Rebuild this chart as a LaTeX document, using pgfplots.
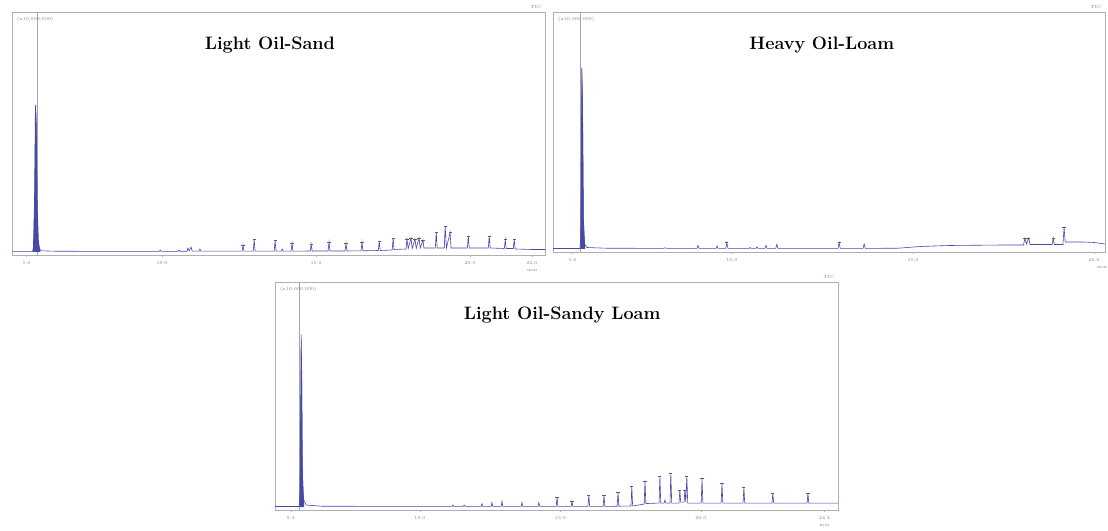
\documentclass[border=0pt]{standalone}
\usepackage{pgfplots}
\pgfplotsset{compat=1.18}
\definecolor{chrom}{RGB}{72,72,168}
\definecolor{frame}{RGB}{175,175,180}
\definecolor{pk}{RGB}{90,90,110}
\newcommand{\tk}{\fontsize{4.5}{5}\selectfont}
\newcommand{\ttl}{\fontsize{18}{20}\selectfont\bfseries}
\pgfplotsset{
  chromax/.style={
    scale only axis, clip=false,
    axis line style={frame, line width=0.7pt},
    ytick=\empty,
    tick style={frame},
    major tick length=2pt, tick align=outside,
    xtick pos=bottom,
    xticklabel style={font=\tk, text=gray},
    xticklabel shift=1pt,
  },
  sig/.style={chrom, line width=0.6pt},
  tops/.style={only marks, mark=-, mark size=1.6pt, pk, mark options={line width=0.5pt}},
  marker/.style={frame!80!gray, line width=0.5pt},
}
\begin{document}
\begin{tikzpicture}
\path[use as bounding box] (0pt,0pt) rectangle (1108pt,530pt);

% ---------- Light Oil-Sand ----------
\begin{axis}[chromax, at={(12pt,275pt)}, anchor=south west,
  width=533pt, height=243pt,
  xmin=5.13, xmax=22.43, ymin=-3, ymax=240,
  xtick={5.6,10,15,20,22}, xticklabels={5.6,10.0,15.0,20.0,22.0}]
\addplot[marker] coordinates {(5.94,-3) (5.94,240)};
\addplot[sig] coordinates {
(5.13,0.6)(5.80,0.6)(5.84,8)(5.87,60)(5.90,147)(5.92,125)(5.94,50)(5.97,12)(6.02,3)(6.1,1.2)(6.5,0.8)(8,0.6)
(9.91,0.6)(9.94,2)(9.97,0.6)
(10.52,0.7)(10.55,2)(10.58,0.7)
(10.81,0.8)(10.84,4)(10.88,1)(10.94,5)(10.98,0.8)
(11.20,0.8)(11.23,3)(11.26,0.8)
(12.60,0.8)(12.63,7)(12.66,0.8)
(12.96,0.8)(12.99,12.5)(13.02,0.8)
(13.64,0.8)(13.67,11.4)(13.70,0.8)
(13.87,0.8)(13.90,3)(13.93,0.8)
(14.19,0.8)(14.22,9)(14.25,0.8)
(14.81,1)(14.84,8)(14.87,1)
(15.39,1)(15.42,10)(15.45,1)
(15.94,1)(15.97,9)(16.00,1)
(16.46,1.2)(16.49,10)(16.52,1.2)
(17.02,1.5)(17.05,11)(17.08,1.5)
(17.47,2)(17.50,13.6)(17.53,2.5)
(17.92,3)(17.95,13)(17.99,3.5)(18.08,14)(18.12,3.5)(18.21,13)(18.25,3.5)(18.34,14)(18.38,4)(18.47,12)(18.50,4)
(18.87,4)(18.90,19.6)(18.93,4)(19.16,4)(19.19,25.7)(19.23,4)(19.35,19.6)(19.38,4)
(19.91,4)(19.94,16)(19.97,4)
(20.59,4)(20.62,16)(20.65,4)
(21.11,3.5)(21.14,12.5)(21.17,3.5)
(21.40,3.5)(21.43,12.5)(21.46,3)
(22.0,2.5)(22.43,2.5)};
\addplot[chrom, fill=chrom, draw=none] coordinates {(5.81,0.6)(5.85,50)(5.88,145)(5.90,147)(5.93,125)(5.96,45)(6.00,10)(6.05,0.6)} \closedcycle;
\addplot[tops] coordinates {(12.63,7)(12.99,12.5)(13.67,11.4)(14.22,9)(14.84,8)(15.42,10)(15.97,9)(16.49,10)(17.05,11)(17.50,13.6)(17.95,13)(18.08,14)(18.21,13)(18.34,14)(18.47,12)(18.90,19.6)(19.19,25.7)(19.35,19.6)(19.94,16)(20.62,16)(21.14,12.5)(21.43,12.5)};
\node[font=\ttl] at (rel axis cs:0.484,0.864) {Light Oil-Sand};
\node[font=\tk, text=gray, anchor=north west] at (rel axis cs:0.003,0.995) {(x10,000,000)};
\node[font=\tk, text=gray, anchor=south east] at (rel axis cs:1,1) {TIC};
\node[font=\tk, text=gray] at (rel axis cs:0.976,0) [yshift=-15pt] {min};
\end{axis}

% ---------- Heavy Oil-Loam ----------
\begin{axis}[chromax, at={(553pt,278pt)}, anchor=south west,
  width=552pt, height=240pt,
  xmin=5.06, xmax=20.30, ymin=-3, ymax=237,
  xtick={5.6,10,15,20}, xticklabels={5.6,10.0,15.0,20.0}]
\addplot[marker] coordinates {(5.80,-3) (5.80,237)};
\addplot[sig] coordinates {
(5.06,0.5)(5.80,0.5)(5.83,10)(5.855,181)(5.875,150)(5.90,30)(5.93,5)(6.0,1.5)(6.5,0.8)(8.1,0.6)(8.15,1.2)(8.2,0.6)
(9.03,0.6)(9.06,3.6)(9.09,0.6)
(9.56,0.6)(9.59,3)(9.62,0.6)
(9.83,0.6)(9.86,6.5)(9.89,0.6)
(10.47,0.6)(10.50,1.5)(10.53,0.6)(10.66,0.6)(10.69,2)(10.72,0.6)
(10.91,0.6)(10.94,3.6)(10.97,0.6)
(11.21,0.6)(11.24,4.7)(11.27,0.6)
(12.93,0.6)(12.96,6.5)(12.99,0.6)
(13.62,0.6)(13.65,5)(13.68,0.6)
(14.6,0.8)(15.2,2.5)(16.0,3.5)(17.5,4)(18.05,4)(18.09,11)(18.13,5)(18.19,11)(18.23,4.5)(18.6,4.5)(18.84,4.5)(18.87,11)(18.90,4.5)(19.14,4.5)(19.17,22)(19.20,7)(19.7,7)(20.0,6.5)(20.30,5)};
\addplot[chrom, fill=chrom, draw=none] coordinates {(5.815,0.5)(5.845,150)(5.86,181)(5.88,150)(5.91,25)(5.95,0.5)} \closedcycle;
\addplot[tops] coordinates {(9.86,6.5)(12.96,6.5)(18.09,11)(18.19,11)(18.87,11)(19.17,22)};
\node[font=\ttl] at (rel axis cs:0.487,0.8625) {Heavy Oil-Loam};
\node[font=\tk, text=gray, anchor=north west] at (rel axis cs:0.003,0.995) {(x10,000,000)};
\node[font=\tk, text=gray, anchor=south east] at (rel axis cs:1,1) {TIC};
\node[font=\tk, text=gray] at (rel axis cs:0.995,0) [yshift=-15pt] {min};
\end{axis}

% ---------- Light Oil-Sandy Loam ----------
\begin{axis}[chromax, at={(275pt,20pt)}, anchor=south west,
  width=563pt, height=228pt,
  xmin=4.84, xmax=24.88, ymin=-3, ymax=227,
  xtick={5.4,10,15,20,24.4}, xticklabels={5.4,10.0,15.0,20.0,24.4}]
\addplot[marker] coordinates {(5.69,-3) (5.69,227)};
\addplot[sig] coordinates {
(4.84,0.5)(5.70,0.5)(5.74,20)(5.77,174)(5.79,140)(5.81,40)(5.85,8)(5.95,2)(6.5,0.8)(10,0.6)
(11.14,0.6)(11.17,2)(11.20,0.6)(11.54,0.6)(11.57,2)(11.60,0.6)
(12.18,0.6)(12.21,3.4)(12.24,0.6)
(12.53,0.6)(12.56,4.5)(12.59,0.6)
(12.89,0.6)(12.92,5.9)(12.95,0.6)
(13.60,0.6)(13.63,4.5)(13.66,0.6)
(14.20,0.6)(14.23,4.5)(14.26,0.6)
(14.85,0.6)(14.88,10.3)(14.91,0.6)
(15.38,0.6)(15.41,5.9)(15.44,0.6)
(15.98,0.6)(16.01,12)(16.04,0.6)
(16.52,0.6)(16.55,12)(16.58,0.6)
(17.02,0.8)(17.05,14.8)(17.08,0.8)
(17.51,1)(17.54,20.7)(17.57,1)
(17.98,3)(18.01,26.5)(18.04,3.5)
(18.51,4)(18.54,31)(18.57,4)(18.69,4)(18.72,7)(18.75,4)(18.90,4)(18.93,33.8)(18.96,4)
(19.22,4)(19.25,17)(19.28,5)(19.40,5)(19.43,17)(19.46,5)(19.50,31)(19.53,4)
(20.01,4)(20.04,29)(20.07,4)
(20.72,4)(20.75,24)(20.78,4)
(21.50,4)(21.53,19.6)(21.56,4)
(22.53,4)(22.56,13.8)(22.59,4)
(23.78,4)(23.81,13.8)(23.84,4)
(24.88,4)};
\addplot[chrom, fill=chrom, draw=none] coordinates {(5.71,0.5)(5.75,120)(5.77,174)(5.80,130)(5.83,30)(5.88,0.5)} \closedcycle;
\addplot[tops] coordinates {(14.88,10.3)(15.41,5.9)(16.01,12)(16.55,12)(17.05,14.8)(17.54,20.7)(18.01,26.5)(18.54,31)(18.93,33.8)(19.25,17)(19.43,17)(19.50,31)(20.04,29)(20.75,24)(21.53,19.6)(22.56,13.8)(23.81,13.8)};
\node[font=\ttl] at (rel axis cs:0.51,0.855) {Light Oil-Sandy Loam};
\node[font=\tk, text=gray, anchor=north west] at (rel axis cs:0.003,0.995) {(x10,000,000)};
\node[font=\tk, text=gray, anchor=south east] at (rel axis cs:1,1) {TIC};
\node[font=\tk, text=gray] at (rel axis cs:0.976,0) [yshift=-15pt] {min};
\end{axis}
\end{tikzpicture}
\end{document}
